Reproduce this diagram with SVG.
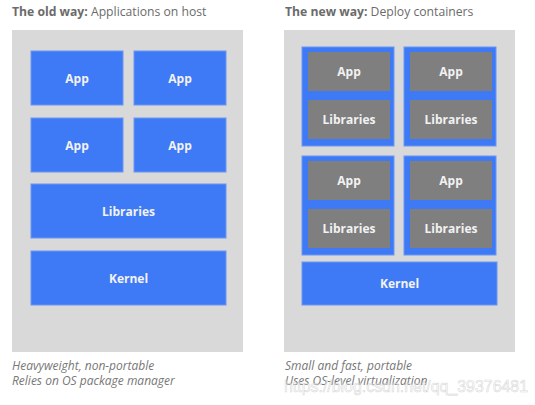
<svg xmlns="http://www.w3.org/2000/svg" width="535" height="405" viewBox="0 0 535 405">
<style>
.panel{fill:#d9d9d9}
.blue{fill:#3f7af6;stroke:#6a96f3;stroke-width:1}
.gray{fill:#7f7f7f}
.lbl{font-family:"Open Sans","Liberation Sans",sans-serif;font-weight:bold;font-size:12px;fill:#f2f2f2;text-anchor:middle;dominant-baseline:central}
.title{font-family:"Open Sans","Liberation Sans",sans-serif;font-size:12.2px;fill:#6b6b6b}
.cap{font-family:"Open Sans","Liberation Sans",sans-serif;font-style:italic;font-size:12px;fill:#777}
.wm{font-family:"Liberation Sans",sans-serif;font-size:16px;fill:#ffffff;fill-opacity:0.5;stroke:#bdbdbd;stroke-width:0.6;stroke-opacity:0.6}
</style>
<rect width="535" height="405" fill="#fff"/>
<text class="title" x="12" y="16"><tspan font-weight="bold">The old way:</tspan> Applications on host</text>
<text class="title" x="285" y="16"><tspan font-weight="bold">The new way:</tspan> Deploy containers</text>
<g id="old-host">
<rect class="panel" x="12" y="30" width="231" height="322"/>
</g>
<g id="old-app1"><rect class="blue" x="31" y="51" width="92" height="54"/><text class="lbl" x="77" y="78">App</text></g>
<g id="old-app2"><rect class="blue" x="134" y="51" width="92" height="54"/><text class="lbl" x="180" y="78">App</text></g>
<g id="old-app3"><rect class="blue" x="31" y="118" width="92" height="54"/><text class="lbl" x="77" y="145">App</text></g>
<g id="old-app4"><rect class="blue" x="134" y="118" width="92" height="54"/><text class="lbl" x="180" y="145">App</text></g>
<g id="old-libs"><rect class="blue" x="31" y="184" width="195" height="54"/><text class="lbl" x="128.5" y="211">Libraries</text></g>
<g id="old-kernel"><rect class="blue" x="31" y="251" width="195" height="54"/><text class="lbl" x="128.5" y="278">Kernel</text></g>

<g id="new-host">
<rect class="panel" x="284" y="30" width="231" height="322"/>
</g>
<g id="container1">
<rect class="blue" x="302" y="47" width="92" height="99"/>
<rect class="gray" x="308" y="52" width="82" height="39"/><text class="lbl" x="349" y="71.5">App</text>
<rect class="gray" x="308" y="100" width="82" height="39"/><text class="lbl" x="349" y="119.5">Libraries</text>
</g>
<g id="container2">
<rect class="blue" x="404" y="47" width="92" height="99"/>
<rect class="gray" x="410" y="52" width="82" height="39"/><text class="lbl" x="451" y="71.5">App</text>
<rect class="gray" x="410" y="100" width="82" height="39"/><text class="lbl" x="451" y="119.5">Libraries</text>
</g>
<g id="container3">
<rect class="blue" x="302" y="156" width="92" height="99"/>
<rect class="gray" x="308" y="161" width="82" height="39"/><text class="lbl" x="349" y="180.5">App</text>
<rect class="gray" x="308" y="209" width="82" height="39"/><text class="lbl" x="349" y="228.5">Libraries</text>
</g>
<g id="container4">
<rect class="blue" x="404" y="156" width="92" height="99"/>
<rect class="gray" x="410" y="161" width="82" height="39"/><text class="lbl" x="451" y="180.5">App</text>
<rect class="gray" x="410" y="209" width="82" height="39"/><text class="lbl" x="451" y="228.5">Libraries</text>
</g>
<g id="new-kernel"><rect class="blue" x="302" y="262" width="195" height="43"/><text class="lbl" x="399.5" y="283.5">Kernel</text></g>
<g id="connectors"></g>

<text class="cap" x="12" y="370">Heavyweight, non-portable</text>
<text class="cap" x="12" y="385">Relies on OS package manager</text>
<text class="cap" x="285" y="370">Small and fast, portable</text>
<text class="cap" x="285" y="385">Uses OS-level virtualization</text>
<text class="wm" x="284" y="392" textLength="244" lengthAdjust="spacingAndGlyphs">https://blog.csdn.net/qq_39376481</text>
</svg>
